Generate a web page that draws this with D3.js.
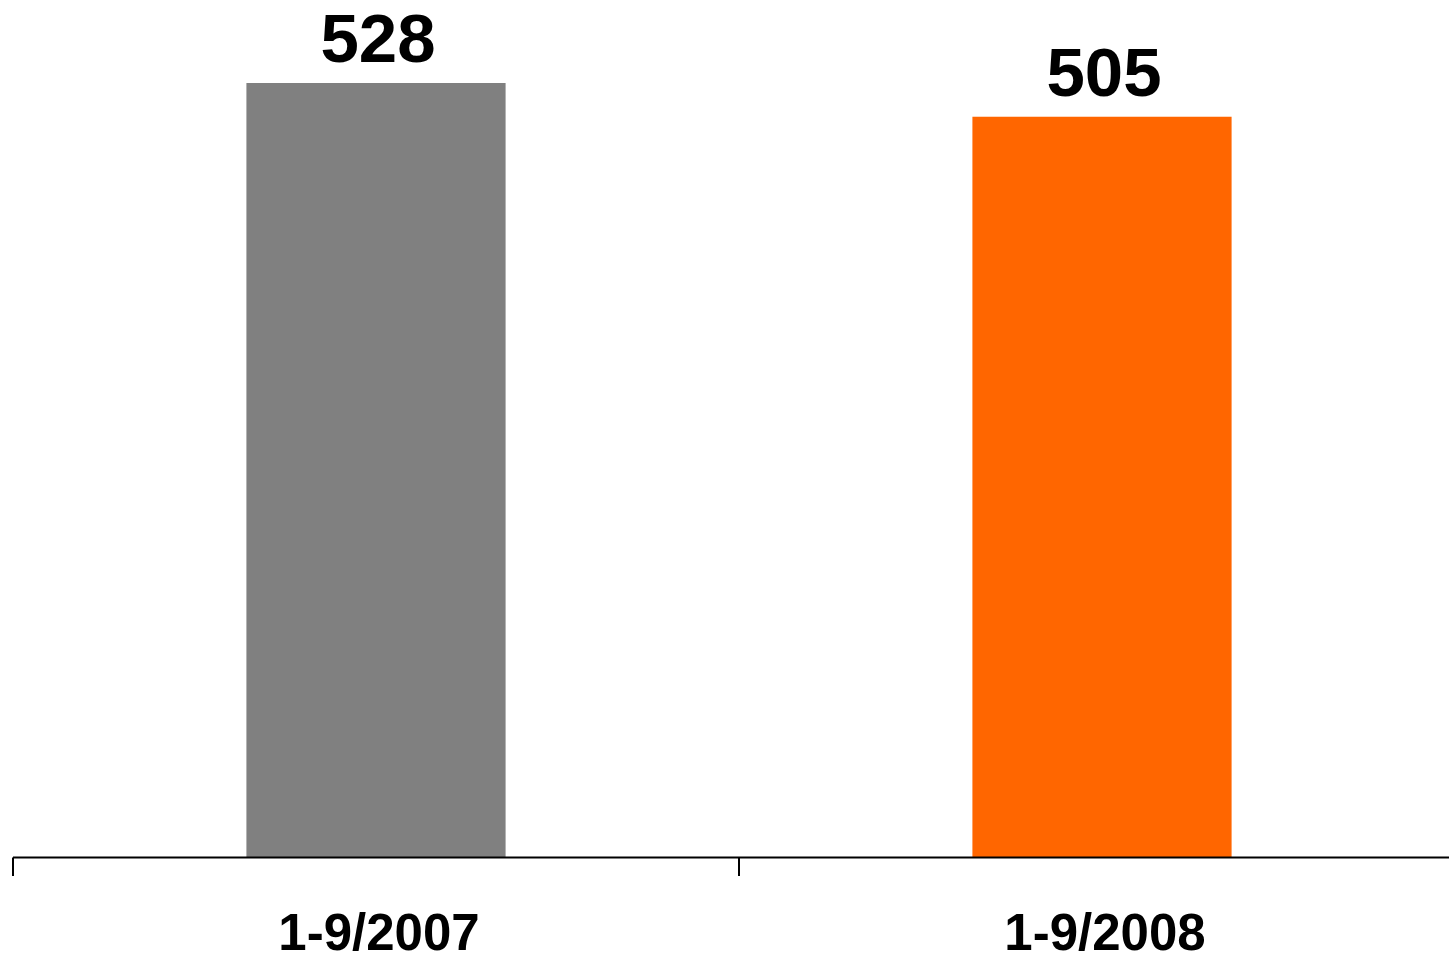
<!DOCTYPE html>
<html>
<head>
<meta charset="utf-8">
<script src="https://cdn.jsdelivr.net/npm/d3@7"></script>
<style>
  html, body { margin: 0; padding: 0; background: #fff; }
  svg { display: block; }
  text { font-family: "Liberation Sans", Arial, sans-serif; font-weight: bold; fill: #000; }
</style>
</head>
<body>
<svg id="chart" width="1449" height="962"></svg>
<script>
// Period totals
const categories = ["1-9/2007", "1-9/2008"];
const values = [528, 505];
const barColors = ["#808080", "#FF6600"];

const W = 1449, H = 962;
const baseY = 857.5;
const svg = d3.select("#chart");

// Category bands: each band spans 726px, starting at x=13
const x = d3.scaleBand()
  .domain(categories)
  .range([13, 13 + 726 * categories.length])
  .paddingInner(0.643)
  .paddingOuter(0.3215);

const y = d3.scaleLinear()
  .domain([0, 528])
  .range([baseY, 83]);

// Bars
svg.selectAll("rect.bar")
  .data(values)
  .join("rect")
  .attr("class", "bar")
  .attr("x", (d, i) => x(categories[i]))
  .attr("width", x.bandwidth())
  .attr("y", d => y(d))
  .attr("height", d => baseY - y(d))
  .attr("fill", (d, i) => barColors[i]);

// Value labels
svg.selectAll("text.val")
  .data(values)
  .join("text")
  .attr("class", "val")
  .attr("x", (d, i) => x(categories[i]) + x.bandwidth() / 2 + 2)
  .attr("y", d => y(d) - 21)
  .attr("text-anchor", "middle")
  .attr("font-size", 69)
  .text(d => d);

// Category axis: line, boundary ticks, labels
const axis = svg.append("g");
axis.append("line")
  .attr("x1", 13).attr("x2", W)
  .attr("y1", baseY).attr("y2", baseY)
  .attr("stroke", "#000").attr("stroke-width", 2);

const step = x.step();
const boundaries = d3.range(categories.length + 1).map(i => 13 + i * step);
axis.selectAll("line.tick")
  .data(boundaries)
  .join("line")
  .attr("class", "tick")
  .attr("x1", d => d).attr("x2", d => d)
  .attr("y1", baseY).attr("y2", 876)
  .attr("stroke", "#000").attr("stroke-width", 2);

axis.selectAll("text.cat")
  .data(categories)
  .join("text")
  .attr("class", "cat")
  .attr("x", d => x(d) + x.bandwidth() / 2 + 3)
  .attr("y", 950)
  .attr("text-anchor", "middle")
  .attr("font-size", 51)
  .text(d => d);
</script>
</body>
</html>
